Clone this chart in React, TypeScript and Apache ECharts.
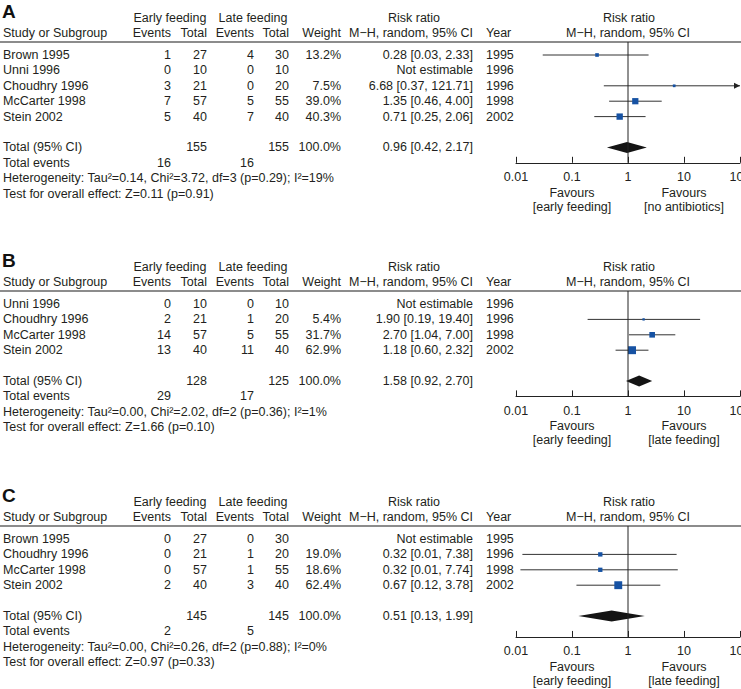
import React, { useEffect, useRef } from "react";
import * as echarts from "echarts";

// ---------- Panel A ----------
const studiesA = ["Brown 1995", "Unni 1996", "Choudhry 1996", "McCarter 1998", "Stein 2002"];
const earlyEventsA = [1, 0, 3, 7, 5];
const earlyTotalA = [27, 10, 21, 57, 40];
const lateEventsA = [4, 0, 0, 5, 7];
const lateTotalA = [30, 10, 20, 55, 40];
const weightA = [13.2, null, 7.5, 39.0, 40.3];
const rrA = [0.28, null, 6.68, 1.35, 0.71];
const loA = [0.03, null, 0.37, 0.46, 0.25];
const hiA = [2.33, null, 121.71, 4.0, 2.06];
const yearA = [1995, 1996, 1996, 1998, 2002];
const totalsA = [155, 155];
const totalEventsA = [16, 16];
const pooledA = [0.96, 0.42, 2.17];
const hetA = "Heterogeneity: Tau²=0.14, Chi²=3.72, df=3 (p=0.29); I²=19%";
const testA = "Test for overall effect: Z=0.11 (p=0.91)";
const favoursA = ["[early feeding]", "[no antibiotics]"];

// ---------- Panel B ----------
const studiesB = ["Unni 1996", "Choudhry 1996", "McCarter 1998", "Stein 2002"];
const earlyEventsB = [0, 2, 14, 13];
const earlyTotalB = [10, 21, 57, 40];
const lateEventsB = [0, 1, 5, 11];
const lateTotalB = [10, 20, 55, 40];
const weightB = [null, 5.4, 31.7, 62.9];
const rrB = [null, 1.9, 2.7, 1.18];
const loB = [null, 0.19, 1.04, 0.6];
const hiB = [null, 19.4, 7.0, 2.32];
const yearB = [1996, 1996, 1998, 2002];
const totalsB = [128, 125];
const totalEventsB = [29, 17];
const pooledB = [1.58, 0.92, 2.7];
const hetB = "Heterogeneity: Tau²=0.00, Chi²=2.02, df=2 (p=0.36); I²=1%";
const testB = "Test for overall effect: Z=1.66 (p=0.10)";
const favoursB = ["[early feeding]", "[late feeding]"];

// ---------- Panel C ----------
const studiesC = ["Brown 1995", "Choudhry 1996", "McCarter 1998", "Stein 2002"];
const earlyEventsC = [0, 0, 0, 2];
const earlyTotalC = [27, 21, 57, 40];
const lateEventsC = [0, 1, 1, 3];
const lateTotalC = [30, 20, 55, 40];
const weightC = [null, 19.0, 18.6, 62.4];
const rrC = [null, 0.32, 0.32, 0.67];
const loC = [null, 0.013, 0.012, 0.12];
const hiC = [null, 7.38, 7.74, 3.78];
const yearC = [1995, 1996, 1998, 2002];
const totalsC = [145, 145];
const totalEventsC = [2, 5];
const pooledC = [0.51, 0.13, 1.99];
const hetC = "Heterogeneity: Tau²=0.00, Chi²=0.26, df=2 (p=0.88); I²=0%";
const testC = "Test for overall effect: Z=0.97 (p=0.33)";
const favoursC = ["[early feeding]", "[late feeding]"];

const tickLabels = ["0.01", "0.1", "1", "10", "100"];
const letters = ["A", "B", "C"];

const panels = [
  { studies: studiesA, ee: earlyEventsA, et: earlyTotalA, le: lateEventsA, lt: lateTotalA, w: weightA, rr: rrA, lo: loA, hi: hiA, yr: yearA, totals: totalsA, tev: totalEventsA, pooled: pooledA, het: hetA, test: testA, fav: favoursA },
  { studies: studiesB, ee: earlyEventsB, et: earlyTotalB, le: lateEventsB, lt: lateTotalB, w: weightB, rr: rrB, lo: loB, hi: hiB, yr: yearB, totals: totalsB, tev: totalEventsB, pooled: pooledB, het: hetB, test: testB, fav: favoursB },
  { studies: studiesC, ee: earlyEventsC, et: earlyTotalC, le: lateEventsC, lt: lateTotalC, w: weightC, rr: rrC, lo: loC, hi: hiC, yr: yearC, totals: totalsC, tev: totalEventsC, pooled: pooledC, het: hetC, test: testC, fav: favoursC },
];

// ---------- layout (pixels) ----------
const W = 741;
const H = 689;
const lineYs = [42, 291, 526];
const axisRows = [7, 6, 6.36];
const ROW = 15.4;
const FIRST = 13;
const X_LO = 516;
const X_HI = 740;
const FONT = '"Liberation Sans", Arial, Helvetica, sans-serif';
const FS = 12.5;
const TXT = "#231f20";
const BLUE = "#1652a3";

const f2 = (v: number) => v.toFixed(2);
const ciText = (r: number | null, l: number | null, h: number | null) =>
  r == null ? "Not estimable" : `${f2(r)} [${f2(l as number)}, ${f2(h as number)}]`;

function txt(text: string, x: number, y: number, align = "left", extra: any = {}) {
  return {
    type: "text",
    x,
    y,
    silent: true,
    style: {
      text,
      fill: TXT,
      fontSize: FS,
      fontFamily: FONT,
      align,
      verticalAlign: "middle",
      ...extra,
    },
  };
}

function buildOption() {
  const grid: any[] = [];
  const xAxis: any[] = [];
  const yAxis: any[] = [];
  const series: any[] = [];
  const graphic: any[] = [];

  panels.forEach((p, k) => {
    const L = lineYs[k];
    const ymin = -FIRST / ROW;
    const ymax = axisRows[k];
    const rowY = (r: number) => L + FIRST + r * ROW;
    const axisY = L + (ymax - ymin) * ROW;
    const nS = p.studies.length;

    grid.push({
      left: X_LO,
      width: X_HI - X_LO,
      top: L,
      height: (ymax - ymin) * ROW,
      containLabel: false,
      outerBoundsMode: "none",
    });
    xAxis.push({
      gridIndex: k,
      type: "log",
      logBase: 10,
      min: 0.01,
      max: 100,
      position: "bottom",
      axisLine: { show: true, onZero: false, lineStyle: { color: "#222", width: 1 } },
      axisTick: { show: true, inside: true, length: 6, lineStyle: { color: "#222", width: 1 } },
      axisLabel: {
        show: true,
        margin: 8,
        color: TXT,
        fontSize: FS,
        fontFamily: FONT,
        showMinLabel: true,
        showMaxLabel: true,
        hideOverlap: false,
        alignMinLabel: "center",
        alignMaxLabel: "center",
        formatter: (v: number) => tickLabels[Math.round(Math.log10(v)) + 2] ?? "",
      },
      splitLine: { show: false },
      minorTick: { show: false },
    });
    yAxis.push({ gridIndex: k, type: "value", inverse: true, min: ymin, max: ymax, show: false });

    // vertical line of no effect
    series.push({
      type: "line",
      xAxisIndex: k,
      yAxisIndex: k,
      data: [[1, ymin], [1, ymax]],
      symbol: "none",
      silent: true,
      lineStyle: { color: "#222", width: 1 },
    });

    // study estimates
    const sdata: any[] = [];
    p.rr.forEach((r, i) => {
      if (r != null) sdata.push([r, p.lo[i], p.hi[i], i, p.w[i]]);
    });
    series.push({
      type: "custom",
      xAxisIndex: k,
      yAxisIndex: k,
      clip: false,
      silent: true,
      encode: { x: [0, 1, 2], y: 3 },
      data: sdata,
      renderItem: (params: any, api: any) => {
        const est = api.value(0);
        const lo = api.value(1);
        const hi = api.value(2);
        const row = api.value(3);
        const wt = api.value(4);
        const pE = api.coord([est, row]);
        const pL = api.coord([Math.max(lo, 0.01), row]);
        const pH = api.coord([Math.min(hi, 100), row]);
        const s = Math.max(2, Math.sqrt(wt));
        const children: any[] = [
          { type: "line", shape: { x1: pL[0], y1: pL[1], x2: pH[0], y2: pH[1] }, style: { stroke: "#333", lineWidth: 1 } },
          { type: "rect", shape: { x: pE[0] - s / 2, y: pE[1] - s / 2, width: s, height: s }, style: { fill: BLUE } },
        ];
        if (hi > 100) {
          children.push({
            type: "polygon",
            shape: { points: [[pH[0], pH[1]], [pH[0] - 6, pH[1] - 3], [pH[0] - 6, pH[1] + 3]] },
            style: { fill: "#222" },
          });
        }
        return { type: "group", children };
      },
    });

    // pooled diamond
    series.push({
      type: "custom",
      xAxisIndex: k,
      yAxisIndex: k,
      clip: false,
      silent: true,
      encode: { x: [0, 1, 2], y: 3 },
      data: [[p.pooled[0], p.pooled[1], p.pooled[2], nS + 1]],
      renderItem: (params: any, api: any) => {
        const row = api.value(3);
        const c = api.coord([api.value(0), row]);
        const l = api.coord([api.value(1), row]);
        const h = api.coord([api.value(2), row]);
        const hh = 5.5;
        return {
          type: "polygon",
          shape: { points: [[l[0], c[1]], [c[0], c[1] - hh], [h[0], c[1]], [c[0], c[1] + hh]] },
          style: { fill: "#141414" },
        };
      },
    });

    // ---- text ----
    graphic.push(txt(letters[k], 2, L - 31, "left", { fontSize: 19, fontWeight: "bold", fill: "#111" }));
    graphic.push(txt("Early feeding", 170, L - 24, "center"));
    graphic.push(txt("Late feeding", 253, L - 24, "center"));
    graphic.push(txt("Risk ratio", 414, L - 24, "center"));
    graphic.push(txt("Risk ratio", 629, L - 24, "center"));
    graphic.push(txt("Study or Subgroup", 3, L - 9));
    graphic.push(txt("Events", 171, L - 9, "right"));
    graphic.push(txt("Total", 207, L - 9, "right"));
    graphic.push(txt("Events", 254, L - 9, "right"));
    graphic.push(txt("Total", 289, L - 9, "right"));
    graphic.push(txt("Weight", 341, L - 9, "right"));
    graphic.push(txt("M−H, random, 95% CI", 473, L - 9, "right"));
    graphic.push(txt("Year", 486, L - 9));
    graphic.push(txt("M−H, random, 95% CI", 628, L - 9, "center"));
    graphic.push({
      type: "line",
      silent: true,
      shape: { x1: 0, y1: L, x2: W, y2: L },
      style: { stroke: "#666", lineWidth: 1.5 },
    });

    p.studies.forEach((s, i) => {
      const y = rowY(i);
      graphic.push(txt(s, 3, y));
      graphic.push(txt(String(p.ee[i]), 171, y, "right"));
      graphic.push(txt(String(p.et[i]), 207, y, "right"));
      graphic.push(txt(String(p.le[i]), 254, y, "right"));
      graphic.push(txt(String(p.lt[i]), 289, y, "right"));
      if (p.w[i] != null) graphic.push(txt((p.w[i] as number).toFixed(1) + "%", 341, y, "right"));
      graphic.push(txt(ciText(p.rr[i], p.lo[i], p.hi[i]), 473, y, "right"));
      graphic.push(txt(String(p.yr[i]), 486, y));
    });

    const yT = rowY(nS + 1);
    graphic.push(txt("Total (95% CI)", 3, yT));
    graphic.push(txt(String(p.totals[0]), 207, yT, "right"));
    graphic.push(txt(String(p.totals[1]), 289, yT, "right"));
    graphic.push(txt("100.0%", 341, yT, "right"));
    graphic.push(txt(ciText(p.pooled[0], p.pooled[1], p.pooled[2]), 473, yT, "right"));
    const yE = rowY(nS + 2);
    graphic.push(txt("Total events", 3, yE));
    graphic.push(txt(String(p.tev[0]), 171, yE, "right"));
    graphic.push(txt(String(p.tev[1]), 254, yE, "right"));
    graphic.push(txt(p.het, 3, rowY(nS + 3)));
    graphic.push(txt(p.test, 3, rowY(nS + 4)));

    graphic.push(txt("Favours", 572, axisY + 30, "center"));
    graphic.push(txt(p.fav[0], 572, axisY + 44, "center"));
    graphic.push(txt("Favours", 684, axisY + 30, "center"));
    graphic.push(txt(p.fav[1], 684, axisY + 44, "center"));
  });

  return {
    animation: false,
    backgroundColor: "#ffffff",
    textStyle: { fontFamily: FONT },
    grid,
    xAxis,
    yAxis,
    series,
    graphic,
  };
}

export default function App() {
  const ref = useRef<HTMLDivElement>(null);
  useEffect(() => {
    if (!ref.current) return;
    const chart = echarts.init(ref.current, null, { renderer: "svg", width: W, height: H });
    chart.setOption(buildOption() as any);
    return () => chart.dispose();
  }, []);
  return (
    <div
      ref={ref}
      style={{ position: "fixed", left: 0, top: 0, width: W, height: H, background: "#fff", overflow: "hidden" }}
    />
  );
}
